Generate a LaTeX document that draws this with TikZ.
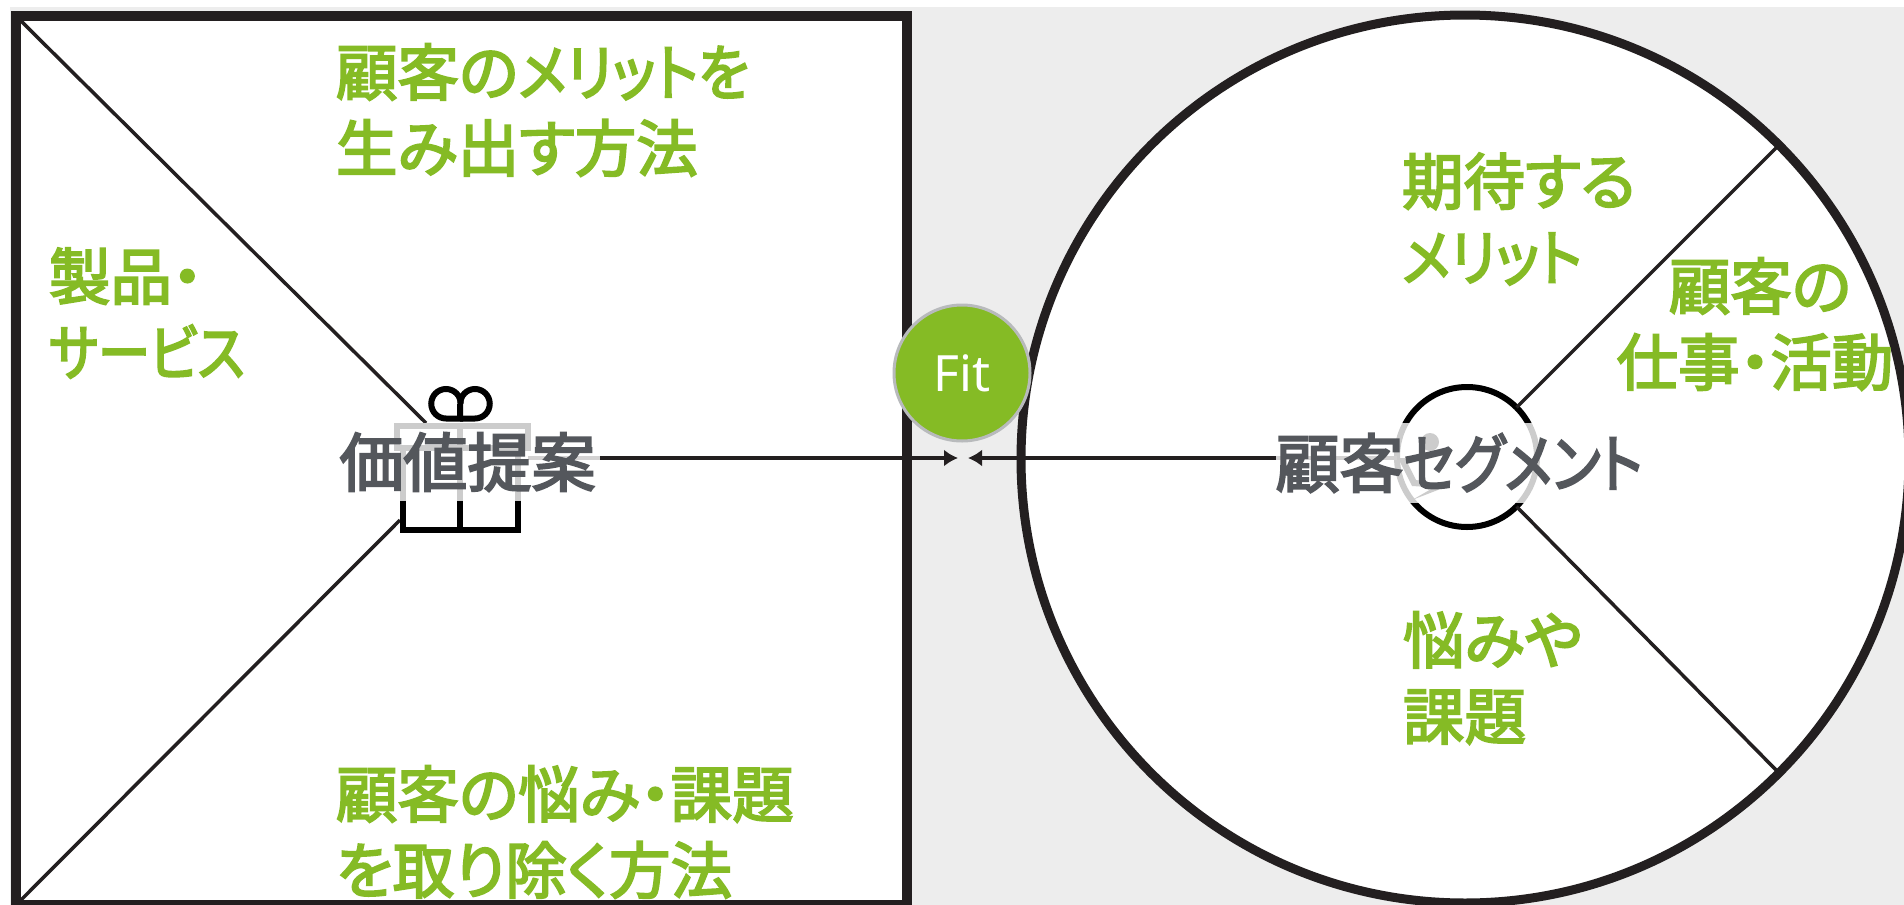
\documentclass[tikz,border=0pt]{standalone}
\usepackage{fontspec}
\usetikzlibrary{arrows.meta}
\usetikzlibrary{positioning}
\newfontfamily\cjk{Noto Sans CJK JP}[RawFeature=+palt,FakeBold=3.2]
\newfontfamily\cjknarrow{Noto Sans CJK JP}[RawFeature=+palt,FakeBold=3.2,FakeStretch=0.9]
\newfontfamily\cjktight{Noto Sans CJK JP}[RawFeature=+palt,FakeBold=3.2,FakeStretch=0.85]
\newcommand{\kn}[1]{{\cjknarrow #1}}
\newcommand{\kt}[1]{{\cjktight #1}}
\newfontfamily\fitfont{Noto Sans}
\definecolor{leaf}{RGB}{133,187,37}
\definecolor{ink}{RGB}{35,31,32}
\definecolor{slate}{RGB}{84,87,92}
\definecolor{paper}{RGB}{237,237,237}
\definecolor{rim}{RGB}{184,186,188}
\begin{document}
\begin{tikzpicture}[x=1pt,y=-1pt,>={Latex[length=14pt,width=17pt]},
  every node/.style={outer sep=0pt,inner sep=0pt},
  heavy/.style={draw=ink,line width=#1},
  thin line/.style={draw=ink,line width=3.5pt},
  icon/.style={draw=black,line width=6pt},
  green label/.style={text=leaf,anchor=west,align=left,font=\cjk\fontsize{61.5}{76}\selectfont},
  title label/.style={fill=white,fill opacity=.8,text opacity=1,text=slate,font=\cjk\fontsize{64}{76}\selectfont}]

\useasboundingbox (0,0) rectangle (1904,905);
\clip (0,0) rectangle (1904,905);
\fill[white] (0,0) rectangle (1904,905);
\fill[paper] (10,7) rectangle (1904,905);

\node[heavy=10pt,fill=white,minimum width=891pt,minimum height=889pt] (frame) at (461.5,460.5) {};
\node[heavy=9pt,circle,fill=white,minimum size=888pt] (outer) at (1465,459) {};
\node[icon,circle,fill=white,minimum size=140pt] (inner) at (1467,457) {};

\coordinate (giftTop) at (426,423);
\coordinate (giftLow) at (400,520);
\coordinate (giftEast) at (528,458);
\coordinate (personWest) at (1397,458);
\coordinate (tipLeft) at (958,458);
\coordinate (tipRight) at (968,458);

\draw[thin line] (frame.north west) -- (giftTop);
\draw[thin line] (frame.south west) -- (giftLow);
\draw[thin line] (inner.45) -- (outer.45);
\draw[thin line] (inner.-45) -- (outer.-45);

\draw[icon] (397,426) rectangle (528,448);
\draw[icon] (402.5,448) rectangle (517.5,530);
\draw[icon] (460,426) -- (460,530);
\draw[icon] (460,404) -- (460,418.5) -- (446,418.5) arc (90:270:14.75) arc (270:360:14.75);
\draw[icon] (460,418.5) -- (475,418.5) arc (90:-90:14.75) arc (-90:-180:14.75);

\fill[black] (1430,442) circle (9);
\fill[black] (1412,500) -- (1443,488) -- (1412,486) -- (1398,458) -- (1405,458) -- (1416,480) -- (1440,484) -- cycle;

\draw[draw=ink,line width=4pt,->] (giftEast) -- (tipLeft);
\draw[draw=ink,line width=4pt,->] (personWest) -- (tipRight);

\node[title label,minimum width=262pt,minimum height=78pt] (proposal) at (469,462) {\hspace{-3pt}\raisebox{5pt}{価値提案}};
\node[title label,minimum width=283pt,minimum height=80pt] (segment) at (1459,463) {\raisebox{5pt}{顧客\kt{セグメント}}};

\node[green label] (gain) at (336,110) {顧客の\kn{メリットを}\\生み出す方法};
\node[green label] (product) at (49,313) {製品・\\\kt{サービス}};
\node[green label] (pain) at (336,832) {顧客の悩み・課題\\を取り除く方法};
\node[green label] (expect) at (1402,219) {期待する\\\kn{メリット}};
\node[green label,anchor=center,align=center] (job) at (1755,324) {\hspace{10pt}顧客の\\仕事・活動};
\node[green label] (worry) at (1403,678) {悩みや\\課題};

\node[circle,fill=leaf,draw=rim,line width=3pt,minimum size=136pt,text=white,font=\fitfont\fontsize{50}{60}\selectfont] (fit) at (962,373) {Fit};
\end{tikzpicture}
\end{document}
